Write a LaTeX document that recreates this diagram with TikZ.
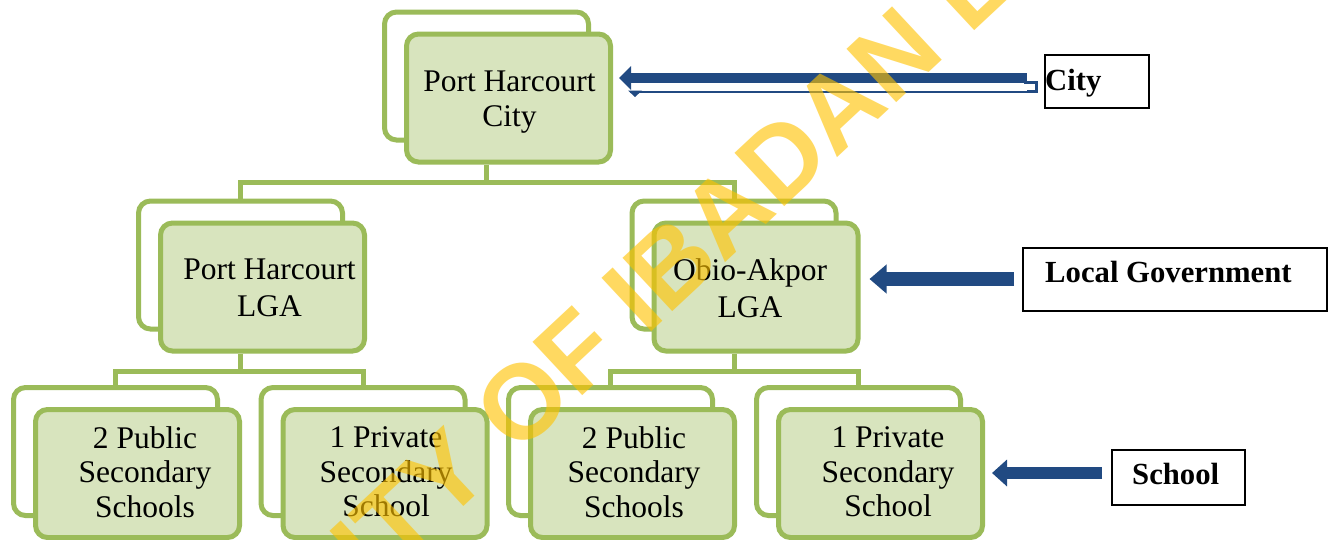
\documentclass[tikz,border=0pt]{standalone}
\usepackage{fontspec}
\setmainfont{Liberation Serif}
\newfontfamily\wmfont{Liberation Sans}
\usetikzlibrary{arrows.meta}
\definecolor{gline}{RGB}{155,187,89}
\definecolor{gfill}{RGB}{216,228,190}
\definecolor{abl}{RGB}{33,74,130}
\definecolor{wmy}{RGB}{255,195,0}
\tikzset{
  backbox/.style={draw=gline, line width=5pt, fill=white, rounded corners=12pt,
    minimum width=204pt, minimum height=128pt, inner sep=0pt},
  frontbox/.style={backbox, fill=gfill},
  boxtext/.style={font=\fontsize{31.5}{34.5}\selectfont, align=center, inner sep=0pt},
  conn/.style={draw=gline, line width=5pt},
  lblbox/.style={draw=black, line width=1.3pt, inner sep=0pt},
  lbltext/.style={font=\fontsize{30.7}{32}\selectfont\bfseries, anchor=base west, inner sep=0pt},
  barrow/.style={draw=abl, line cap=butt}
}
\begin{document}
\begin{tikzpicture}[x=1pt,y=-1pt]
\useasboundingbox (0,0) rectangle (1332,539);
\fill[white] (0,0) rectangle (1332,539);

% back boxes
\node[backbox] (topB)  at (486.5,76) {};
\node[backbox] (lga1B) at (240.5,265) {};
\node[backbox] (lga2B) at (734,265) {};
\node[backbox] (s1B)   at (115.5,451.5) {};
\node[backbox] (s2B)   at (363,451.5) {};
\node[backbox] (s3B)   at (610.5,451.5) {};
\node[backbox] (s4B)   at (858.5,451.5) {};

% front boxes
\node[frontbox] (topF)  at (508.5,98) {};
\node[frontbox] (lga1F) at (262.5,287) {};
\node[frontbox] (lga2F) at (756,287) {};
\node[frontbox] (s1F)   at (137.5,473.5) {};
\node[frontbox] (s2F)   at (385,473.5) {};
\node[frontbox] (s3F)   at (632.5,473.5) {};
\node[frontbox] (s4F)   at (880.5,473.5) {};

% texts
\node[boxtext] (topT)  at (509.5,102) {Port Harcourt\\City};
\node[boxtext, font=\fontsize{31.5}{36.5}\selectfont] (lga1T) at (269.5,288) {Port Harcourt\\LGA};
\node[boxtext, font=\fontsize{31.5}{36.5}\selectfont] (lga2T) at (750,288) {Obio-Akpor\\LGA};
\node[boxtext] (s1T) at (145,472) {2 Public\\Secondary\\Schools};
\node[boxtext] (s2T) at (386,472) {1 Private\\Secondary\\School};
\node[boxtext] (s3T) at (634,472) {2 Public\\Secondary\\Schools};
\node[boxtext] (s4T) at (888,472) {1 Private\\Secondary\\School};

% connectors
\coordinate (bar1) at (486.5,182);
\coordinate (bar2) at (240.5,371.5);
\coordinate (bar3) at (734,371.5);
\draw[conn] (topB.center |- topF.south) -- (bar1);
\draw[conn] (lga1B.north) -- (lga1B.north |- bar1) -- (lga2B.north |- bar1) -- (lga2B.north);
\draw[conn] (lga1B.center |- lga1F.south) -- (bar2);
\draw[conn] (s1B.north) -- (s1B.north |- bar2) -- (s2B.north |- bar2) -- (s2B.north);
\draw[conn] (lga2B.center |- lga2F.south) -- (bar3);
\draw[conn] (s3B.north) -- (s3B.north |- bar3) -- (s4B.north |- bar3) -- (s4B.north);

% level label boxes
\node[lblbox, minimum width=104pt, minimum height=53pt] (cityB) at (1097,81.5) {};
\node[lbltext] (cityT) at (1045,90) {City};
\node[lblbox, minimum width=304pt, minimum height=63pt] (lgB) at (1175,279.5) {};
\node[lbltext] (lgT) at (1045,282) {Local Government};
\node[lblbox, minimum width=133pt, minimum height=55pt] (schB) at (1178.5,477.5) {};
\node[lbltext] (schT) at (1132,484) {School};

% arrows
\coordinate (cityA) at (1027,78);
\draw[barrow, line width=10pt, -{Triangle[width=23pt,length=12pt]}] (cityA) -- ([xshift=6pt]topF.east |- cityA);
\draw[abl, line width=1.5pt] (630,92) -- (1028,92);
\fill[abl] (628,90.5) -- (642,90.5) -- (635,97) -- cycle;
\draw[abl, line width=3pt] (1024,82) -- (1036,82) -- (1036,91) -- (1027,91);

\coordinate (lgA) at (1014,279);
\draw[barrow, line width=14pt, -{Triangle[width=28pt,length=17pt]}] (lgA) -- ([xshift=9pt]lga2F.east |- lgA);
\coordinate (schA) at (1102,473);
\draw[barrow, line width=12pt, -{Triangle[width=26pt,length=15pt]}] (schA) -- ([xshift=7pt]s4F.east |- schA);

% watermark
\node[text=wmy, opacity=0.62, text opacity=0.62, font=\wmfont\bfseries\fontsize{106}{106}\selectfont,
  rotate=43, anchor=base west, inner sep=0pt] (wm) at (517,457) {\llap{UNIVERSITY }OF IBADAN LIBRARY};
\end{tikzpicture}
\end{document}
